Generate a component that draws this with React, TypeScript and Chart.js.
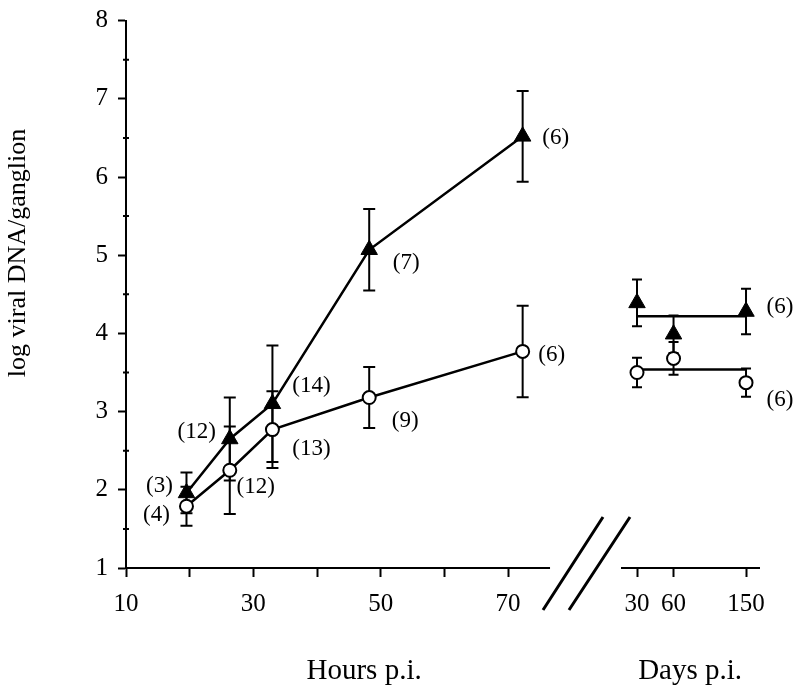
import React, { useEffect, useRef } from 'react';
import { Chart, registerables } from 'chart.js';

Chart.register(...registerables);

// ---------- data ----------
const hourTicks = [10, 20, 30, 40, 50, 60, 70];
const hourTickLabels = ['10', '', '30', '', '50', '', '70'];
const dayTicks = [30, 60, 150];
const dayTickLabels = ['30', '60', '150'];
const yMinorTicks = [1.5, 2.5, 3.5, 4.5, 5.5, 6.5, 7.5];

const hoursPI = [19.5, 26.3, 33.0, 48.2, 72.3];
const triHoursMean = [1.96, 2.65, 3.1, 5.07, 6.52];
const triHoursErr = [0.26, 0.53, 0.745, 0.52, 0.58];
const triHoursN = ['(3)', '(12)', '(14)', '(7)', '(6)'];
const circHoursMean = [1.79, 2.25, 2.77, 3.18, 3.77];
const circHoursErr = [0.25, 0.56, 0.49, 0.39, 0.585];
const circHoursN = ['(4)', '(12)', '(13)', '(9)', '(6)'];

const daysPI = [30, 60, 150];
const triDaysMean = [4.39, 3.99, 4.28];
const triDaysErr = [0.3, 0.24, 0.29];
const triDaysN = ['', '', '(6)'];
const circDaysMean = [3.5, 3.68, 3.37];
const circDaysErr = [0.19, 0.21, 0.18];
const circDaysN = ['', '', '(6)'];
const triDaysLevel = 4.22;
const circDaysLevel = 3.54;

const yLabel = 'log viral DNA/ganglion';
const xLabelHours = 'Hours p.i.';
const xLabelDays = 'Days p.i.';

// ---------- scale helpers (broken axis: days section on a compressed scale) ----------
const X_MIN = 10;
const X_MAX = 109.58;
const HOURS_AXIS_END = 76.6;
const DAYS_AXIS_START = 87.75;
const DAY_OFFSET = 76.41;
const DAY_SCALE = 2.529;
const dayPos = (d: number) => DAY_OFFSET + DAY_SCALE * Math.sqrt(d);

const FONT = "'Liberation Serif', 'DejaVu Serif', serif";
const allTickValues = [...hourTicks, ...dayTicks.map(dayPos)];
const allTickLabels = [...hourTickLabels, ...dayTickLabels];

const errorBarPlugin = {
  id: 'errorBars',
  beforeDatasetsDraw(chart: any) {
    const ctx = chart.ctx;
    const ys = chart.scales.y;
    chart.data.datasets.forEach((ds: any, i: number) => {
      if (!ds.errors) return;
      const meta = chart.getDatasetMeta(i);
      meta.data.forEach((pt: any, j: number) => {
        const v = ds.data[j].y;
        const e = ds.errors[j];
        const x = pt.x;
        const yt = ys.getPixelForValue(v + e);
        const yb = ys.getPixelForValue(v - e);
        const cw = ds.capWidth || 6;
        ctx.save();
        ctx.strokeStyle = '#000';
        ctx.lineWidth = 2;
        ctx.beginPath();
        ctx.moveTo(x, yt);
        ctx.lineTo(x, yb);
        ctx.moveTo(x - cw, yt);
        ctx.lineTo(x + cw, yt);
        ctx.moveTo(x - cw, yb);
        ctx.lineTo(x + cw, yb);
        ctx.stroke();
        ctx.restore();
      });
    });
  },
};

const labelPlugin = {
  id: 'pointLabels',
  afterDatasetsDraw(chart: any) {
    const ctx = chart.ctx;
    chart.data.datasets.forEach((ds: any, i: number) => {
      if (!ds.nLabels) return;
      const meta = chart.getDatasetMeta(i);
      meta.data.forEach((pt: any, j: number) => {
        const t = ds.nLabels[j];
        if (!t) return;
        const off = ds.nOffsets[j];
        ctx.save();
        ctx.fillStyle = '#000';
        ctx.font = `23px ${FONT}`;
        ctx.textAlign = 'center';
        ctx.textBaseline = 'middle';
        ctx.fillText(t, pt.x + off[0], pt.y + off[1]);
        ctx.restore();
      });
    });
  },
};

const axisDecorPlugin = {
  id: 'axisDecor',
  afterDraw(chart: any) {
    const ctx = chart.ctx;
    const xs = chart.scales.x;
    const ys = chart.scales.y;
    const area = chart.chartArea;
    const by = area.bottom;
    ctx.save();
    ctx.strokeStyle = '#000';
    ctx.lineCap = 'butt';
    // broken x axis segments
    ctx.lineWidth = 2;
    ctx.beginPath();
    ctx.moveTo(xs.getPixelForValue(X_MIN) - 1, by);
    ctx.lineTo(xs.getPixelForValue(HOURS_AXIS_END), by);
    ctx.moveTo(xs.getPixelForValue(DAYS_AXIS_START), by);
    ctx.lineTo(xs.getPixelForValue(X_MAX), by);
    ctx.stroke();
    // break marks
    ctx.lineWidth = 3;
    ctx.beginPath();
    ctx.moveTo(xs.getPixelForValue(75.5), by + 42);
    ctx.lineTo(xs.getPixelForValue(84.92), by - 51);
    ctx.moveTo(xs.getPixelForValue(79.58), by + 42);
    ctx.lineTo(xs.getPixelForValue(89.16), by - 51);
    ctx.stroke();
    // minor y ticks
    ctx.lineWidth = 2;
    ctx.beginPath();
    yMinorTicks.forEach((v) => {
      const py = ys.getPixelForValue(v);
      ctx.moveTo(area.left - 3, py);
      ctx.lineTo(area.left + 3, py);
    });
    ctx.stroke();
    // axis titles
    ctx.fillStyle = '#000';
    ctx.font = `29px ${FONT}`;
    ctx.textAlign = 'center';
    ctx.textBaseline = 'alphabetic';
    ctx.fillText(xLabelHours, xs.getPixelForValue(47.4), by + 111);
    ctx.fillText(xLabelDays, xs.getPixelForValue(98.6), by + 111);
    ctx.translate(25, 253);
    ctx.rotate(-Math.PI / 2);
    ctx.font = `26px ${FONT}`;
    ctx.fillText(yLabel, 0, 0);
    ctx.restore();
  },
};

export default function App() {
  const ref = useRef<HTMLCanvasElement | null>(null);

  useEffect(() => {
    if (!ref.current) return;
    Chart.defaults.font.family = FONT;
    Chart.defaults.color = '#000';

    const triHours = hoursPI.map((h, i) => ({ x: h, y: triHoursMean[i] }));
    const circHours = hoursPI.map((h, i) => ({ x: h, y: circHoursMean[i] }));
    const triDays = daysPI.map((d, i) => ({ x: dayPos(d), y: triDaysMean[i] }));
    const circDays = daysPI.map((d, i) => ({ x: dayPos(d), y: circDaysMean[i] }));
    const triLevel = [daysPI[0], daysPI[daysPI.length - 1]].map((d) => ({ x: dayPos(d), y: triDaysLevel }));
    const circLevel = [daysPI[0], daysPI[daysPI.length - 1]].map((d) => ({ x: dayPos(d), y: circDaysLevel }));

    const chart = new Chart(ref.current, {
      type: 'line',
      data: {
        datasets: [
          {
            label: 'tri-days',
            data: triDays,
            showLine: false,
            pointStyle: 'triangle',
            pointRadius: 9.5,
            pointBackgroundColor: '#000',
            pointBorderColor: '#000',
            pointBorderWidth: 1,
            errors: triDaysErr,
            capWidth: 5,
            nLabels: triDaysN,
            nOffsets: [[0, 0], [0, 0], [34, -5]],
          } as any,
          {
            label: 'circ-days',
            data: circDays,
            showLine: false,
            pointStyle: 'circle',
            pointRadius: 6.5,
            pointBackgroundColor: '#fff',
            pointBorderColor: '#000',
            pointBorderWidth: 2,
            errors: circDaysErr,
            capWidth: 5,
            nLabels: circDaysN,
            nOffsets: [[0, 0], [0, 0], [34, 17]],
          } as any,
          {
            label: 'tri-hours',
            data: triHours,
            borderColor: '#000',
            borderWidth: 2.5,
            pointStyle: 'triangle',
            pointRadius: 9.5,
            pointBackgroundColor: '#000',
            pointBorderColor: '#000',
            pointBorderWidth: 1,
            errors: triHoursErr,
            capWidth: 6,
            nLabels: triHoursN,
            nOffsets: [[-27, -7], [-33, -7], [39, -18], [37, 13], [33, 2]],
          } as any,
          {
            label: 'circ-hours',
            data: circHours,
            borderColor: '#000',
            borderWidth: 2.5,
            pointStyle: 'circle',
            pointRadius: 6.5,
            pointBackgroundColor: '#fff',
            pointBorderColor: '#000',
            pointBorderWidth: 2,
            errors: circHoursErr,
            capWidth: 6,
            nLabels: circHoursN,
            nOffsets: [[-30, 9], [26, 17], [39, 19], [36, 23], [29, 4]],
          } as any,
          {
            label: 'tri-level',
            data: triLevel,
            borderColor: '#000',
            borderWidth: 2.5,
            pointRadius: 0,
          },
          {
            label: 'circ-level',
            data: circLevel,
            borderColor: '#000',
            borderWidth: 2.5,
            pointRadius: 0,
          },
        ],
      },
      options: {
        animation: false,
        responsive: true,
        maintainAspectRatio: false,
        layout: { padding: { top: 11, right: 40, bottom: 72, left: 0 } },
        plugins: { legend: { display: false }, tooltip: { enabled: false } },
        scales: {
          x: {
            type: 'linear',
            min: X_MIN,
            max: X_MAX,
            afterBuildTicks: (s: any) => {
              s.ticks = allTickValues.map((v) => ({ value: v }));
            },
            afterFit: (s: any) => {
              s.height = 50;
            },
            ticks: {
              autoSkip: false,
              maxRotation: 0,
              padding: 12,
              color: '#000',
              font: { size: 25, family: FONT },
              callback: (_v: any, i: number) => allTickLabels[i],
            },
            grid: {
              drawOnChartArea: false,
              drawTicks: true,
              tickLength: 9,
              tickColor: '#000',
              tickWidth: 2,
            },
            border: { display: false },
          },
          y: {
            type: 'linear',
            min: 1,
            max: 8,
            afterFit: (s: any) => {
              s.width = 126;
            },
            ticks: {
              stepSize: 1,
              padding: 10,
              color: '#000',
              font: { size: 25, family: FONT, lineHeight: 0.85 },
            },
            grid: {
              drawOnChartArea: false,
              drawTicks: true,
              tickLength: 8,
              tickColor: '#000',
              tickWidth: 2,
            },
            border: { display: true, color: '#000', width: 2 },
          },
        },
      },
      plugins: [errorBarPlugin, labelPlugin, axisDecorPlugin],
    });
    return () => chart.destroy();
  }, []);

  return (
    <div style={{ position: 'fixed', left: 0, top: 0, width: 800, height: 690, background: '#fff' }}>
      <canvas ref={ref} />
    </div>
  );
}
